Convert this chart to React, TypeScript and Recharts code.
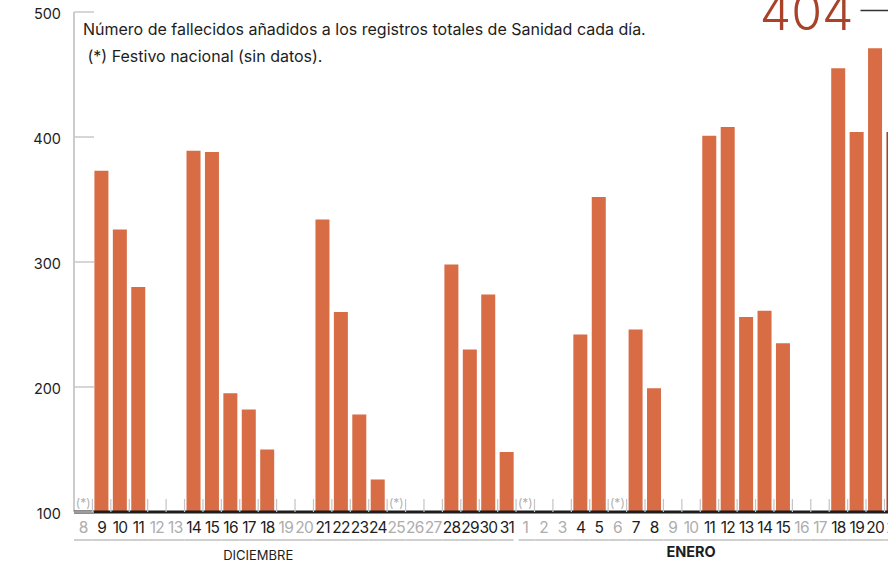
import { BarChart, Bar, XAxis, YAxis } from 'recharts';

// fallecidos añadidos cada día (null = sin datos)
const decDays = [8, 9, 10, 11, 12, 13, 14, 15, 16, 17, 18, 19, 20, 21, 22, 23, 24, 25, 26, 27, 28, 29, 30, 31];
const decDeaths = [null, 373, 326, 280, null, null, 389, 388, 195, 182, 150, null, null, 334, 260, 178, 126, null, null, null, 298, 230, 274, 148];
const janDays = [1, 2, 3, 4, 5, 6, 7, 8, 9, 10, 11, 12, 13, 14, 15, 16, 17, 18, 19, 20, 21];
const janDeaths = [null, null, null, 242, 352, null, 246, 199, null, null, 401, 408, 256, 261, 235, null, null, 455, 404, 471, 404];
const holidays = ['8 dic', '25 dic', '1 ene', '6 ene'];
const highlightKey = '21 ene';
const yTicks = [100, 200, 300, 400, 500];
const noteLines = [
  'Número de fallecidos añadidos a los registros totales de Sanidad cada día.',
  ' (*) Festivo nacional (sin datos).',
];

const rows = [
  ...decDays.map((d, i) => ({ key: `${d} dic`, day: d, month: 'dic', deaths: decDeaths[i] })),
  ...janDays.map((d, i) => ({ key: `${d} ene`, day: d, month: 'ene', deaths: janDeaths[i] })),
];

const FONT = 'Inter, "Noto Sans", sans-serif';
const BAR = '#d86c45';
const BAR_DARK = '#a8432a';
const BAND = 18.42;
const PLOT_LEFT = 74;
const BASE_Y = 512;

function XTick(props: any) {
  const { x, y, payload } = props;
  const row = rows[payload.index];
  if (!row) return null;
  const prev = rows[payload.index - 1];
  const next = rows[payload.index + 1];
  const firstOfMonth = !prev || prev.month !== row.month;
  const lastOfMonth = !next || next.month !== row.month;
  const hasData = row.deaths != null;
  return (
    <g>
      {payload.index > 0 && (
        <line x1={x - BAND / 2} x2={x - BAND / 2} y1={y - 13} y2={y} stroke="#c4c4c4" strokeWidth={1.2} />
      )}
      {holidays.includes(row.key) && (
        <text x={x} y={y - 5} textAnchor="middle" fontSize={12} fill="#b0b0b0" fontFamily={FONT}>
          (*)
        </text>
      )}
      <text x={x} y={y + 21.5} textAnchor="middle" fontSize={15.5} fill={hasData ? '#1d1d1d' : '#adadad'} fontFamily={FONT} letterSpacing={-0.7}>
        {row.day}
      </text>
      <line
        x1={x - BAND / 2 + (firstOfMonth && payload.index > 0 ? 2.5 : 0)}
        x2={x + BAND / 2 - (lastOfMonth ? 2.5 : 0)}
        y1={y + 28}
        y2={y + 28}
        stroke="#cfcfcf"
        strokeWidth={2}
      />
      {row.key === '17 dic' && (
        <text x={x + BAND / 2} y={y + 48} textAnchor="middle" fontSize={13} fill="#1d1d1d" fontFamily={FONT}>
          DICIEMBRE
        </text>
      )}
      {row.key === '10 ene' && (
        <text x={x} y={y + 45} textAnchor="middle" fontSize={14.5} fontWeight={700} fill="#1d1d1d" fontFamily={FONT}>
          ENERO
        </text>
      )}
    </g>
  );
}

function YTick(props: any) {
  const { x, y, payload } = props;
  return (
    <g>
      <line x1={x} x2={x + 20} y1={y} y2={y} stroke="#c8c8c8" strokeWidth={1.5} />
      <text x={x - 13} y={y + 7} textAnchor="end" fontSize={14.5} fill="#1d1d1d" fontFamily={FONT}>
        {payload.value}
      </text>
    </g>
  );
}

function BarShape(props: any) {
  const { x, y, width, height, payload } = props;
  if (!height || height <= 0) return <g />;
  const hot = payload.key === highlightKey;
  const cx = x + width / 2;
  return (
    <g>
      <rect x={x} y={y} width={width} height={height} fill={hot ? BAR_DARK : BAR} />
      {hot && (
        <g>
          <text x={cx - 40} y={30} textAnchor="end" fontSize={50} fontWeight={300} fill={BAR_DARK} fontFamily={FONT}>
            {payload.deaths}
          </text>
          <line x1={cx - 33} x2={cx} y1={10.5} y2={10.5} stroke="#333" strokeWidth={1.5} />
        </g>
      )}
    </g>
  );
}

export default function App() {
  const chartWidth = PLOT_LEFT + BAND * rows.length;
  return (
    <div style={{ position: 'absolute', left: 0, top: 0, width: 888, height: 565, overflow: 'hidden', background: '#fff' }}>
      <BarChart
        width={chartWidth}
        height={565}
        data={rows}
        margin={{ top: 12, right: 0, bottom: 0, left: 0 }}
        barSize={14}
      >
        <YAxis
          width={PLOT_LEFT}
          domain={[100, 500]}
          ticks={yTicks}
          tickLine={false}
          tickSize={0}
          tickMargin={0}
          axisLine={{ stroke: '#9a9a9a', strokeWidth: 1 }}
          tick={<YTick />}
        />
        <XAxis
          dataKey="key"
          interval={0}
          height={565 - BASE_Y}
          tickLine={false}
          tickSize={0}
          tickMargin={0}
          axisLine={{ stroke: '#1d1d1d', strokeWidth: 3 }}
          tick={<XTick />}
        />
        <Bar dataKey="deaths" isAnimationActive={false} shape={<BarShape />} />
      </BarChart>
      <svg width={888} height={80} style={{ position: 'absolute', left: 0, top: 0, pointerEvents: 'none' }}>
        {noteLines.map((line, i) => (
          <text key={i} x={83} y={35 + i * 27} fontSize={16} fill="#1d1d1d" fontFamily={FONT} style={{ whiteSpace: 'pre' }}>
            {line}
          </text>
        ))}
      </svg>
    </div>
  );
}
